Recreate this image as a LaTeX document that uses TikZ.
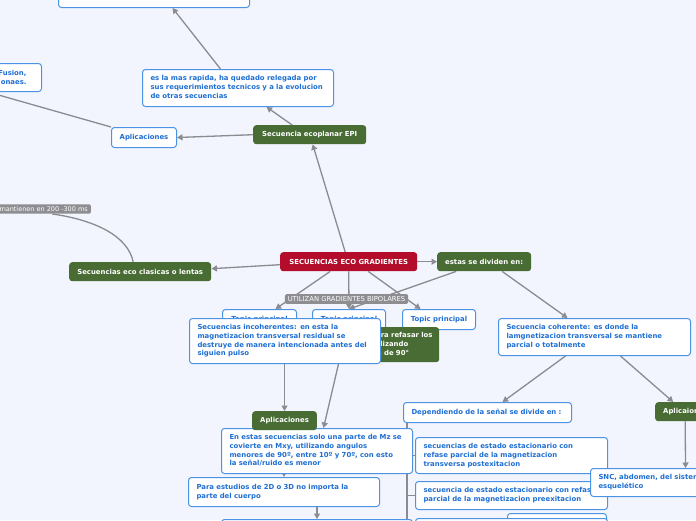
\documentclass[tikz,border=0pt]{standalone}
\usepackage{fontspec}
\setmainfont{DejaVu Sans}
\usetikzlibrary{arrows.meta,calc}
\pgfdeclarelayer{back}
\pgfdeclarelayer{lines}
\pgfsetlayers{back,lines,main}
\definecolor{bgc}{HTML}{F2F5FD}
\definecolor{bluec}{HTML}{4C93E6}
\definecolor{bluet}{HTML}{1F6FD3}
\definecolor{greenc}{HTML}{486C34}
\definecolor{redc}{HTML}{B40D2C}
\definecolor{greyc}{HTML}{8E8E92}
\definecolor{linec}{HTML}{8B8B90}
\newcommand\nfont{\fontsize{6.9}{8.8}\selectfont\bfseries}
\newcommand\lfont{\fontsize{6.8}{7.8}\selectfont}
\newcommand\mfont{\fontsize{6.5}{7.8}\selectfont}
\newcommand\tl[1]{\begin{tabular}{@{}l@{}}#1\end{tabular}}
\tikzset{
 base/.style={rounded corners=3pt, anchor=north west, inner xsep=8pt, inner ysep=0pt, font=\nfont},
 bluebox/.style={base, draw=bluec, line width=1pt, fill=white, text=bluet},
 greenbox/.style={base, fill=greenc, text=white},
 redbox/.style={base, fill=redc, text=white},
 glabel/.style={rounded corners=1.5pt, fill=greyc, text=white, font=\lfont, inner xsep=3pt, inner ysep=2.2pt},
 conn/.style={draw=linec, line width=1.3pt, -{Triangle[length=5.5pt,width=6pt]}},
 plainline/.style={draw=linec, line width=1.3pt},
}
\begin{document}
\begin{tikzpicture}[x=1pt,y=-1pt]
\useasboundingbox (0,0) rectangle (696,520);
\begin{pgfonlayer}{back}
\fill[bgc] (0,0) rectangle (696,520);
\end{pgfonlayer}

% ---------------- nodes ----------------
\node[bluebox, minimum width=191pt, minimum height=37pt] (topbox) at (58,-30) {};
\node[bluebox, minimum width=231pt, minimum height=28pt, text width=201pt, align=right, inner xsep=15pt] (tlbox) at (-190,63) {Fusion,\\onaes.};
\node[bluebox, minimum width=191pt, minimum height=37pt, text width=175pt] (rapida) at (142,69) {\tl{es la mas rapida, ha quedado relegada por\\sus requerimientos tecnicos y a la evolucion\\de otras secuencias}};
\node[bluebox, minimum width=65pt, minimum height=20pt] (apl1) at (111,127) {Aplicaciones};
\node[greenbox, minimum width=113pt, minimum height=19pt] (epi) at (253,125) {Secuencia ecoplanar EPI};
\node[glabel, font=\mfont, anchor=east] (mant) at (91,209) {mantienen en 200 -300 ms};
\node[greenbox, minimum width=142pt, minimum height=19pt] (clas) at (69,262) {Secuencias eco clasicas o lentas};
\node[redbox, minimum width=137pt, minimum height=19pt] (main) at (280,252) {SECUENCIAS ECO GRADIENTES};
\node[greenbox, minimum width=92pt, minimum height=19pt] (div) at (437,252) {estas se dividen en:};
\node[bluebox, minimum width=74pt, minimum height=20pt] (tp1) at (222,309) {Topic principal};
\node[bluebox, minimum width=73pt, minimum height=20pt] (tp2) at (312,309) {Topic principal};
\node[bluebox, minimum width=73pt, minimum height=20pt] (tp3) at (402,309) {Topic principal};
\node[greenbox, minimum width=121pt, minimum height=35pt, text width=105pt] (grad) at (318,327) {\tl{Gradientes para refasar los\\los spines, utilizando\\giros menores de 90°}};
\node[glabel] (util) at (346.5,299) {UTILIZAN GRADIENTES BIPOLARES};
\node[bluebox, minimum width=191pt, minimum height=45pt, text width=175pt] (inc) at (189,318) {\tl{Secuencias incoherentes: en esta la\\magnetizacion transversal residual se\\destruye de manera intencionada antes del\\siguien pulso}};
\node[bluebox, minimum width=191pt, minimum height=45pt, text width=175pt] (enestas) at (221,428) {\tl{En estas secuencias solo una parte de Mz se\\covierte en Mxy, utilizando angulos\\menores de 90º, entre 10º y 70º, con esto\\la señal/ruido es menor}};
\node[greenbox, minimum width=64pt, minimum height=19pt] (apl2) at (252,411) {Aplicaciones};
\node[bluebox, minimum width=191pt, minimum height=29pt, text width=175pt] (para) at (188,477) {\tl{Para estudios de 2D o 3D no importa la\\parte del cuerpo}};
\node[bluebox, minimum width=191pt, minimum height=30pt] (bot1) at (221,519) {};
\node[bluebox, minimum width=192pt, minimum height=37pt, text width=176pt] (coh) at (498,318) {\tl{Secuencia coherente: es donde la\\lamgnetizacion transversal se mantiene\\parcial o totalmente}};
\node[bluebox, minimum width=168pt, minimum height=20pt, text width=152pt] (dep) at (403,402) {\tl{Dependiendo de la señal se divide en :}};
\node[bluebox, minimum width=192pt, minimum height=36pt, text width=176pt] (post) at (415,437) {\tl{secuencias de estado estacionario con\\refase parcial de la magnetizacion\\transversa postexitacion}};
\node[bluebox, minimum width=192pt, minimum height=28pt, text width=176pt] (pre) at (415,481) {\tl{secuencia de estado estacionario con refase\\parcial de la magnetizacion preexitacion}};
\node[bluebox, minimum width=99pt, minimum height=30pt] (bot2) at (507,513) {};
\node[bluebox, minimum width=192pt, minimum height=30pt] (bot3) at (415,518) {};
\node[greenbox, minimum width=80pt, minimum height=19pt, text width=64pt] (apl3) at (655,402) {\tl{Aplicaiones}};
\node[bluebox, minimum width=190pt, minimum height=28pt, text width=174pt] (snc) at (590,468) {\tl{SNC, abdomen, del sistema musculo\\esquelético}};

% ---------------- connectors ----------------
\begin{pgfonlayer}{lines}
\draw[conn] ($(main.north)+(-3.5,0)$) -- ($(epi.south)+(3,0)$);
\draw[conn] ($(epi.north)+(-17.5,0)$) -- ($(rapida.south)+(28.5,0)$);
\draw[conn] ($(rapida.north)+(-17.5,0)$) -- ($(topbox.south)+(18.5,0)$);
\draw[conn] (epi.west) -- (apl1.east);
\draw[conn] (apl1.north west) -- ($(tlbox.south east)+(-54,0)$);
\draw[conn] ($(main.west)+(0,3)$) -- ($(clas.east)+(0,-3)$);
\draw[plainline] ($(clas.north)+(-7,0)$) .. controls (128,236) and (95,220) .. ($(mant.south east)+(-39,0)$);
\draw[conn] (main.east) -- (div.west);
\draw[conn] ($(main.south)+(-18.5,0)$) -- ($(tp1.north)+(16,0)$);
\draw[conn] (main.south) -- (tp2.north);
\draw[conn] ($(main.south)+(19.5,0)$) -- ($(tp3.north)+(-18.5,0)$);
\draw[conn] ($(div.south)+(-28,0)$) -- (tp2.north);
\draw[conn] ($(div.south)+(18,0)$) -- ($(coh.north)+(-27,0)$);
\draw[conn] ($(coh.south)+(-29,0)$) -- ($(dep.north)+(15,0)$);
\draw[conn] ($(coh.south)+(26,0)$) -- ($(apl3.north)+(-22,0)$);
\draw[conn] ($(apl3.south)+(-10,0)$) -- (snc.north);
\draw[conn] (apl2.north |- inc.south) -- (apl2.north);
\draw[conn] ($(inc.south)+(53.5,0)$) -- ($(enestas.north)+(6.5,0)$);
\draw[conn] (para.north |- enestas.south) -- (para.north);
\draw[conn] (bot1.north |- para.south) -- (bot1.north);
\draw[plainline] ($(dep.south west)+(4,0)$) |- (post.west);
\draw[plainline] ($(dep.south west)+(4,0)$) |- (pre.west);
\draw[plainline] ($(dep.south west)+(4,0)$) |- (bot3.west);
\end{pgfonlayer}
\end{tikzpicture}
\end{document}
